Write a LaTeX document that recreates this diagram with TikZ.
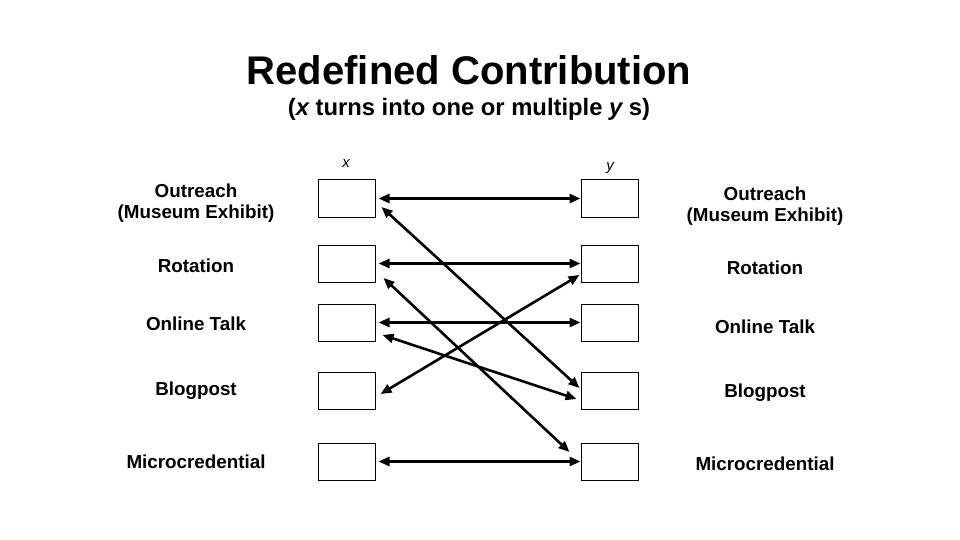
\documentclass[tikz,border=0pt]{standalone}
\usepackage{fontspec}
\setmainfont{Liberation Sans}
\usetikzlibrary{arrows.meta}

\begin{document}
\begin{tikzpicture}[x=1pt,y=-1pt,
    slot/.style={draw,line width=1pt,minimum width=57pt,minimum height=37pt,inner sep=0pt},
    item/.style={font=\bfseries\fontsize{18.8}{21}\selectfont,align=center},
    link/.style={{Triangle[length=11pt,width=9pt]}-{Triangle[length=11pt,width=9pt]},line width=2.6pt}]
\useasboundingbox (0,0) rectangle (960,540);

\node (title) at (469,70) {\fontsize{40}{44}\selectfont\bfseries Redefined Contribution};
\node (sub) at (469,109) {\fontsize{23.8}{26}\selectfont\bfseries ({\itshape x} turns into one or multiple {\itshape y} s)};

\node (xhead) at (346,164) {\fontsize{15}{17}\selectfont\itshape x};
\node (yhead) at (610,168) {\fontsize{15}{17}\selectfont\itshape y};

% x column
\node[slot] (x1) at (346.5,198.5) {};
\node[slot] (x2) at (346.5,263.5) {};
\node[slot] (x3) at (346.5,322.5) {};
\node[slot] (x4) at (346.5,391) {};
\node[slot] (x5) at (346.5,461.5) {};

% y column
\node[slot] (y1) at (609.5,198.5) {};
\node[slot] (y2) at (609.5,263.5) {};
\node[slot] (y3) at (609.5,322.5) {};
\node[slot] (y4) at (609.5,391) {};
\node[slot] (y5) at (609.5,461.5) {};

\node[item] (lx1) at (196,203) {Outreach\\(Museum Exhibit)};
\node[item] (lx2) at (196,266) {Rotation};
\node[item] (lx3) at (196,324) {Online Talk};
\node[item] (lx4) at (196,391) {Blogpost};
\node[item] (lx5) at (196,462) {Microcredential};

\node[item] (ly1) at (765,206) {Outreach\\(Museum Exhibit)};
\node[item] (ly2) at (765,268) {Rotation};
\node[item] (ly3) at (765,327) {Online Talk};
\node[item] (ly4) at (765,393) {Blogpost};
\node[item] (ly5) at (765,464) {Microcredential};

\draw[link,shorten <=3pt] (x1.east) -- (y1.west);
\draw[link,shorten <=3pt] (x2.east) -- (y2.west);
\draw[link,shorten <=3pt] (x3.east) -- (y3.west);
\draw[link,shorten <=3pt] (x5.east) -- (y5.west);

\draw[link] ([shift={(6,8.5)}]x1.east) -- ([shift={(-1,-3)}]y4.west);
\draw[link] ([shift={(8,14.5)}]x2.east) -- ([shift={(-11,-9.5)}]y5.west);
\draw[link] ([shift={(-1,11.5)}]y2.west) -- ([shift={(5,3)}]x4.east);
\draw[link] ([shift={(7,12.5)}]x3.east) -- ([shift={(-4,8)}]y4.west);
\end{tikzpicture}
\end{document}
